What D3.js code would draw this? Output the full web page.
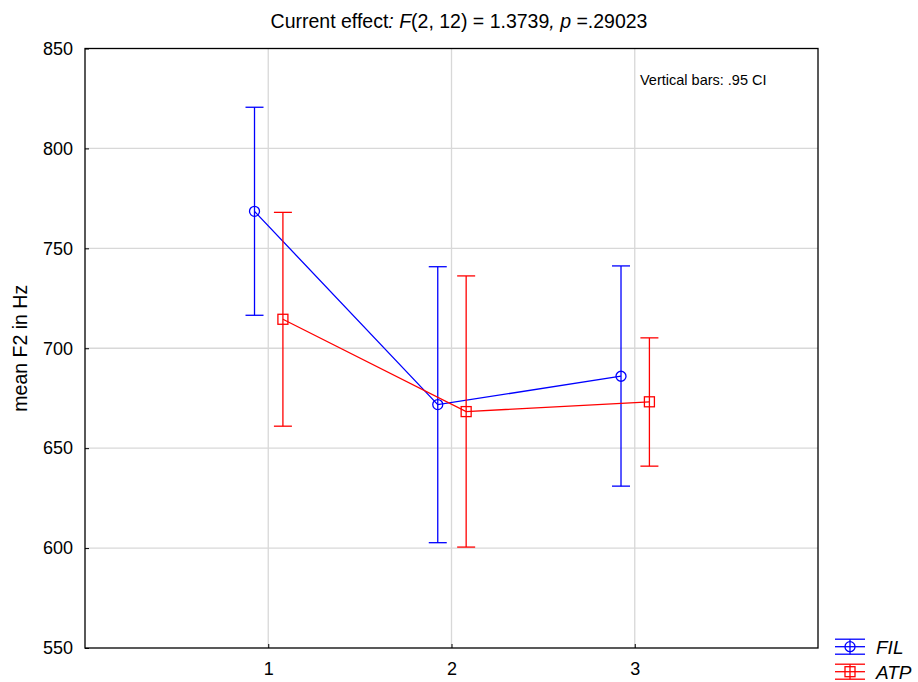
<!DOCTYPE html>
<html><head><meta charset="utf-8">
<script src="https://cdn.jsdelivr.net/npm/d3@7"></script>
<style>body{margin:0;background:#fff;} svg{display:block;font-family:"Liberation Sans",Arial,sans-serif;}</style>
</head><body>
<script>
const categories = [1, 2, 3];
const seriesNames = ["FIL", "ATP"];
const filMean = [768.5, 671.8, 686.0];
const filLow  = [716.5, 602.7, 631.0];
const filHigh = [820.6, 740.8, 741.2];
const atpMean = [714.5, 668.3, 673.2];
const atpLow  = [661.0, 600.5, 641.0];
const atpHigh = [768.0, 736.2, 705.2];
const yTicks = [550, 600, 650, 700, 750, 800, 850];
const xTicks = [1, 2, 3];

const W = 918, H = 682;
const m = {l: 85, r: 100, t: 48.5, b: 34};
const svg = d3.select("body").append("svg").attr("width", W).attr("height", H);
const x = d3.scaleLinear().domain([0, 4]).range([m.l, W - m.r]);
const y = d3.scaleLinear().domain([550, 850]).range([H - m.b, m.t]);

// grid
svg.append("g").selectAll("line").data(yTicks.slice(1, -1)).join("line")
  .attr("x1", m.l).attr("x2", W - m.r).attr("y1", d => y(d)).attr("y2", d => y(d))
  .attr("stroke", "#d8d8d8").attr("stroke-width", 1.3);
svg.append("g").selectAll("line").data(xTicks).join("line")
  .attr("y1", m.t).attr("y2", H - m.b).attr("x1", d => x(d)).attr("x2", d => x(d))
  .attr("stroke", "#d8d8d8").attr("stroke-width", 1.3);

// axes
const yAxis = svg.append("g").attr("transform", `translate(${m.l},0)`)
  .call(d3.axisLeft(y).tickValues(yTicks).tickSize(-4).tickPadding(12));
const xAxis = svg.append("g").attr("transform", `translate(0,${H - m.b})`)
  .call(d3.axisBottom(x).tickValues(xTicks).tickFormat(d3.format("d")).tickSize(-4).tickPadding(14));
[yAxis, xAxis].forEach(a => {
  a.select(".domain").remove();
  a.selectAll("line").attr("stroke", "#000");
  a.selectAll("text").attr("font-size", 18).attr("fill", "#000")
    .attr("font-family", '"Liberation Sans",Arial,sans-serif');
});
xAxis.selectAll("text").attr("dy", "0.71em");
// frame
svg.append("rect").attr("x", m.l).attr("y", m.t)
  .attr("width", W - m.r - m.l).attr("height", H - m.b - m.t)
  .attr("fill", "none").attr("stroke", "#000").attr("stroke-width", 1.3);

const series = [
  {name: "FIL", color: "#0000ff", off: -0.075, mean: filMean, lo: filLow, hi: filHigh, shape: "circle"},
  {name: "ATP", color: "#ff0000", off: 0.08, mean: atpMean, lo: atpLow, hi: atpHigh, shape: "square"}
];

series.forEach(s => {
  const g = svg.append("g");
  const pts = categories.map((c, i) => ({cx: x(c + s.off), m: s.mean[i], lo: s.lo[i], hi: s.hi[i]}));
  g.selectAll("line.eb").data(pts).join("line")
    .attr("x1", d => d.cx).attr("x2", d => d.cx).attr("y1", d => y(d.lo)).attr("y2", d => y(d.hi))
    .attr("stroke", s.color).attr("stroke-width", 1.3);
  ["lo", "hi"].forEach(k => {
    g.selectAll("line.cap" + k).data(pts).join("line")
      .attr("x1", d => d.cx - 9).attr("x2", d => d.cx + 9).attr("y1", d => y(d[k])).attr("y2", d => y(d[k]))
      .attr("stroke", s.color).attr("stroke-width", 1.3);
  });
  g.append("path").datum(pts)
    .attr("d", d3.line().x(d => d.cx).y(d => y(d.m)))
    .attr("fill", "none").attr("stroke", s.color).attr("stroke-width", 1.3);
  if (s.shape === "circle") {
    g.selectAll("circle").data(pts).join("circle")
      .attr("cx", d => d.cx).attr("cy", d => y(d.m)).attr("r", 5)
      .attr("fill", "none").attr("stroke", s.color).attr("stroke-width", 1.3);
  } else {
    g.selectAll("rect").data(pts).join("rect")
      .attr("x", d => d.cx - 5).attr("y", d => y(d.m) - 5).attr("width", 10).attr("height", 10)
      .attr("fill", "none").attr("stroke", s.color).attr("stroke-width", 1.3);
  }
});

// title
const title = svg.append("text").attr("x", 459).attr("y", 28).attr("text-anchor", "middle")
  .attr("font-size", 19.5).attr("fill", "#000");
title.append("tspan").text("Current effect");
title.append("tspan").attr("font-style", "italic").text(": F");
title.append("tspan").text("(2, 12) = 1.3739");
title.append("tspan").attr("font-style", "italic").text(", p ");
title.append("tspan").text("=.29023");

svg.append("text").attr("x", 640).attr("y", 85).attr("font-size", 14.5).attr("fill", "#000")
  .text("Vertical bars: .95 CI");

svg.append("text").attr("transform", `translate(27,${(m.t + H - m.b) / 2}) rotate(-90)`)
  .attr("text-anchor", "middle").attr("font-size", 19.5).attr("fill", "#000").text("mean F2 in Hz");

// legend
const lg = svg.append("g");
series.forEach((s, i) => {
  const cy = 646.7 + i * 25;
  const cx = 850;
  [-7.5, 0, 7.5].forEach(dy => {
    lg.append("line").attr("x1", cx - 15).attr("x2", cx + 15).attr("y1", cy + dy).attr("y2", cy + dy)
      .attr("stroke", s.color).attr("stroke-width", 1.3);
  });
  lg.append("line").attr("x1", cx).attr("x2", cx).attr("y1", cy - 7.5).attr("y2", cy + 7.5)
    .attr("stroke", s.color).attr("stroke-width", 1.3);
  if (s.shape === "circle") {
    lg.append("circle").attr("cx", cx).attr("cy", cy).attr("r", 5)
      .attr("fill", "none").attr("stroke", s.color).attr("stroke-width", 1.3);
  } else {
    lg.append("rect").attr("x", cx - 5).attr("y", cy - 5).attr("width", 10).attr("height", 10)
      .attr("fill", "none").attr("stroke", s.color).attr("stroke-width", 1.3);
  }
  lg.append("text").attr("x", 876).attr("y", cy + 7).attr("font-size", 19).attr("font-style", "italic")
    .attr("fill", "#000").text(s.name);
});
</script>
</body></html>
